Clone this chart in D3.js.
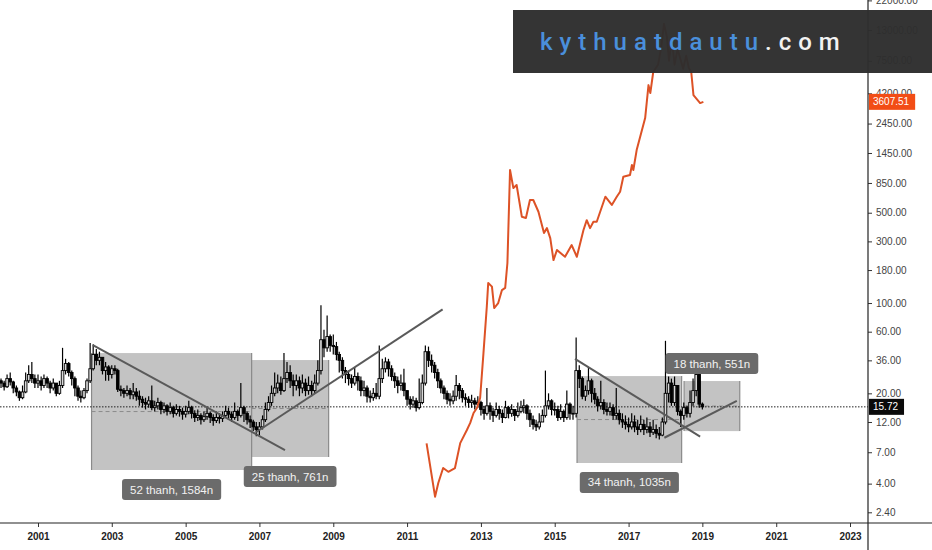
<!DOCTYPE html>
<html><head><meta charset="utf-8">
<script src="https://cdn.jsdelivr.net/npm/d3@7"></script>
<style>
html,body{margin:0;padding:0;background:#fff;}
svg{display:block;font-family:"Liberation Sans",Arial,sans-serif;}
</style></head><body>
<svg id="chart" width="932" height="550"></svg>
<script>
// ---------- DATA ----------
// Monthly candles, Jan 2000 .. Jan 2019 (open = previous close)
const startYear = 2000;
const firstOpen = 25;
const closes = [
 24,22.5,26,24.5,22,20.5,18.5,20.5,25,28,26,24,
 25,23,26,24,22,24,20,23,30,34,29,26,
 22,19,18.5,21,25,31,40,36,38,30,32,28,
 31,30,21.5,21,20,21,19.5,20.5,19,18,17,16.5,
 17.5,15.5,16,17,15,16,14.5,15.5,14,15,14.5,13.8,
 14.5,15.5,14,13,13.5,12.5,13.2,14,13,12.3,13,12.8,
 13.5,14.5,13.8,13,14.5,13.5,15.5,14,12.5,12,11,10.5,
 11,12.5,15,17,20,22,24,21,26,29,25,23,
 25,22,24,21,23,21,24,30,52,45,55,47,
 46,40,36,30,28,26,24,27,25,21,22,19,
 18.5,20,19,26,31,35,31,27,25,23,24,21,
 18,16.5,17.5,15.5,17,24,42,36,33,29,25,22,
 20,18,17.5,19,23,21,18.5,18,17,17.5,16.5,17,
 15,14,16,14.5,13.5,15,14,13,15.5,14,15,13.5,
 14.5,15.5,16,14,12.5,11.5,11,12,13.5,16,17.5,15,
 15,13,14.5,13,16.5,14,14,30,26,19,21,25,
 20,18,16,17,15,14.5,15.5,13.5,14,12.5,12,11.5,
 11,12,11,10.5,11.5,10.5,11,10,10.5,9.8,9.5,12,
 20,24,17,23,14.5,13.5,15.5,14,17,21,28,16.5,
 15.72];
const highs = [
 26,25,28,29,25,23,21,23,29,33,35,28,
 28,27,28,27,25,26,24,25,45,37,35,30,
 27,23,21,22,26,49,48,44,42,38,35,33,
 33,33,31,23,22,23,22,24,22,21,19,18.5,
 19,23,17.5,18.5,17.5,17,16.5,17,16,16.5,16,15.5,
 16,17.5,16,14.8,15,14,14.5,15.5,14.5,13.8,14.5,14,
 14.5,16,15.5,14.5,17,15,24,16,14.5,13.5,12.5,12,
 12,13.5,17,19,23,29,28,27,41,35,33,28,
 28,27,28,26,27,25,28,36,96,62,80,57,
 57,50,42,38,32,30,28,32,29,27,25,23,
 21,22,24,47,37,38,37,33,29,27,28,31,
 21,19,19,18.5,26,28,47,46,40,35,31,26,
 23,21,20,21,27.7,24,22,20,19,19.5,18.5,19,
 17.5,16,22,17,15.5,17,16,15,17.5,16,16.5,15,
 17,17.5,18,16.5,15,13.5,12.5,14,15,30,20,18,
 17,16,16.5,15,21,17,16,54,33,27,23,32,
 26,22,19,25,18,17,17,16.5,22,15,14,13.5,
 13,14,13.5,12.5,13.5,12.5,13,12,12.5,11.5,11,13,
 51,27,26,27,23,15,17,16,21,26,36,30,
 17];
const lows = [
 22,21,22,23,20,19,17.5,18,20,24,24,22,
 22,21,22,22,20,21,19,19.5,22,28,27,23,
 19,17.5,17,18,20,24,30,33,33,28,25,25,
 26,28,20.5,19,18.5,19,18,18,17.5,16,15.5,15,
 15.5,14.8,14.5,15,13.8,14,13.5,13.8,13,13.5,13.2,12.5,
 13,13.8,12.8,12,12.2,11.5,12,12.5,11.8,11.2,11.8,11.7,
 12,13,12.5,12,12.5,12.2,13,12,11.5,10.8,10.2,9.3,
 9.5,10.5,12,14.5,16,19,20,19.5,20.5,24,22,19,
 21,19,20,19,19.5,19,20,23,28,38,42,42,
 40,36,29,26,24,23,22,23,21,19,19,17,
 17,17.5,18,18,24,29,27,25,22,20,21,19,
 16,15,15.5,14.5,15,16.5,23,32,29,26,22,20,
 18,16.5,16,16.5,17.5,18,17,16,15.5,15.5,15,15.5,
 13.5,12.5,13.5,12.5,12,13,12.5,11.8,12.8,12.8,13.2,12.2,
 13,14,14,12.5,11,10.5,10.2,10.5,12,13,15,13.5,
 13.5,12.2,12.5,12,12.5,12.5,12.5,13,22,18,17.5,19.5,
 17,16.5,14.5,15,13.8,13.5,13.5,12.5,12.5,11.5,10.8,10.5,
 10,10.5,10,9.5,10,9.5,9.8,9.2,9.5,9,8.8,9.3,
 11.5,17,16,16,13.5,11,12.5,13,13,16,19,15.5,
 15];

// Orange overlay series (sampled)
const btcDates = ["2011-07-13","2011-10-05","2011-11-06","2011-12-24","2012-02-13","2012-04-19","2012-06-10","2012-08-15","2012-09-17","2012-10-20","2012-11-22","2012-12-24","2013-01-26","2013-02-28","2013-03-14","2013-04-20","2013-05-12","2013-06-21","2013-07-28","2013-08-29","2013-09-20","2013-10-16","2013-11-18","2013-12-20","2014-02-10","2014-03-22","2014-05-01","2014-06-03","2014-07-24","2014-09-17","2014-10-16","2014-11-18","2014-12-20","2015-01-23","2015-04-13","2015-06-18","2015-08-08","2015-10-12","2015-11-14","2015-12-17","2016-01-19","2016-02-21","2016-05-16","2016-07-19","2016-09-06","2016-10-09","2016-11-10","2017-01-15","2017-02-03","2017-02-17","2017-03-22","2017-06-14","2017-07-17","2017-08-04","2017-09-02","2017-10-20","2017-11-20","2017-12-17","2018-01-15","2018-02-05","2018-03-05","2018-04-01","2018-05-01","2018-06-25","2018-07-25","2018-08-20","2018-09-13","2018-10-05","2018-12-10","2019-01-11"];
const btcValues = [8.2,3.17,4.05,5.28,4.94,5.28,8.24,10.4,11.8,14.1,15.4,18.4,41,93.6,143,134,91.5,100,126,131,204,1070,776,819,465,455,627,627,509,348,380,318,215,257,228,281,228,366,438,380,426,426,665,574,665,727,950,980,1170,1070,1527,2700,4860,4220,6140,7000,9500,14500,11500,7500,11000,7000,9200,6500,8200,6600,6140,4070,3530,3607.51];

// Date-range boxes
const rangeStart = ["2002-06-15","2006-10-16","2015-08-10","2018-07-04"];
const rangeEnd   = ["2006-10-16","2008-11-16","2018-06-10","2020-01-06"];
const rangeHigh  = [41.0, 36.2, 27.2, 24.9];
const rangeLow   = [5.1, 6.43, 5.78, 10.2];
const rangeBars  = [52, 25, 34, 18];
const rangeDays  = [1584, 761, 1035, 551];
const rangeLabelAbove = [false, false, false, true];

// Trend lines
const trendStartDate = ["2002-06-28","2006-11-28","2015-07-21","2017-12-21"];
const trendStartVal  = [47.3, 10.0, 36.9, 9.06];
const trendEndDate   = ["2007-09-11","2011-12-19","2018-12-10","2019-12-08"];
const trendEndVal    = [7.28, 89.4, 9.23, 17.5];

// Axis ticks
const yTicks = [2.4,4,7,12,20,36,60,100,180,300,500,850,1450,2450,4200,7500,13000,22000];
const xTickYears = [2001,2003,2005,2007,2009,2011,2013,2015,2017,2019,2021,2023];
const lastPrice = 15.72;
const overlayLast = 3607.51;

// ---------- DRAW ----------
const svg = d3.select("#chart");
const W = 932, H = 550, axisX = 868, axisY = 523;
const parse = d3.timeParse("%Y-%m-%d");

const x = d3.scaleTime().domain([new Date(2001,0,1), new Date(2023,0,1)]).range([38, 850]);
const y = d3.scaleLog().domain([2.4, 22000]).range([512.3, 0.4]);

svg.append("defs").append("clipPath").attr("id","plot")
  .append("rect").attr("x",0).attr("y",0).attr("width",axisX).attr("height",axisY);
const plot = svg.append("g").attr("clip-path","url(#plot)");

const candles = closes.map((c,i)=>({
  date: new Date(startYear, i, 1),
  open: i===0 ? firstOpen : closes[i-1],
  close: c, high: highs[i], low: lows[i]
}));

// range boxes
rangeStart.forEach((s,i)=>{
  const x0 = x(parse(s)), x1 = x(parse(rangeEnd[i]));
  const y0 = y(rangeHigh[i]), y1 = y(rangeLow[i]);
  plot.append("rect").attr("x",x0).attr("y",y0).attr("width",x1-x0).attr("height",y1-y0)
    .attr("fill","#c3c3c3");
  [x0,x1].forEach(xx=>plot.append("line").attr("x1",xx).attr("x2",xx).attr("y1",y0).attr("y2",y1)
    .attr("stroke","#8a8a8a").attr("stroke-width",1.2));
  const ym = (y0+y1)/2;
  plot.append("line").attr("x1",x0).attr("x2",x1).attr("y1",ym).attr("y2",ym)
    .attr("stroke","#8c8c8c").attr("stroke-width",1).attr("stroke-dasharray","4,3");
});

// last price dotted line
plot.append("line").attr("x1",0).attr("x2",axisX).attr("y1",y(lastPrice)).attr("y2",y(lastPrice))
  .attr("stroke","#222").attr("stroke-width",1).attr("stroke-dasharray","1.5,1.5");

// candles
const cg = plot.append("g");
cg.selectAll("line.wick").data(candles).join("line")
  .attr("x1",d=>x(d.date)).attr("x2",d=>x(d.date))
  .attr("y1",d=>y(d.high)).attr("y2",d=>y(d.low))
  .attr("stroke","#000").attr("stroke-width",1.2);
cg.selectAll("rect.body").data(candles).join("rect")
  .attr("x",d=>x(d.date)-1.3).attr("width",2.6)
  .attr("y",d=>y(Math.max(d.open,d.close)))
  .attr("height",d=>Math.max(0.8, Math.abs(y(d.open)-y(d.close))))
  .attr("fill",d=>d.close>=d.open ? "#d8d8d8" : "#000")
  .attr("stroke","#000").attr("stroke-width",0.9);

// trend lines
trendStartDate.forEach((s,i)=>{
  plot.append("line")
    .attr("x1",x(parse(s))).attr("y1",y(trendStartVal[i]))
    .attr("x2",x(parse(trendEndDate[i]))).attr("y2",y(trendEndVal[i]))
    .attr("stroke","#5a5a5a").attr("stroke-width",2);
});

// orange overlay
const btc = btcDates.map((d,i)=>({date:parse(d), v:btcValues[i]}));
plot.append("path").datum(btc)
  .attr("d", d3.line().x(d=>x(d.date)).y(d=>y(d.v)))
  .attr("fill","none").attr("stroke","#dd5226").attr("stroke-width",2).attr("stroke-linejoin","round");

// range labels
rangeStart.forEach((s,i)=>{
  const x0 = x(parse(s)), x1 = x(parse(rangeEnd[i]));
  const cx = (x0+x1)/2;
  const g = svg.append("g");
  const rect = g.append("rect").attr("fill","#6b6b6b").attr("rx",3).attr("ry",3);
  const t = g.append("text").text(`${rangeBars[i]} thanh, ${rangeDays[i]}n`)
    .attr("font-size",11.5).attr("fill","#f2f2f2").attr("text-anchor","middle");
  const tw = t.node().getComputedTextLength();
  const h = 21;
  const top = rangeLabelAbove[i] ? y(rangeHigh[i]) - 7 - h : y(rangeLow[i]) + 9;
  rect.attr("x",cx - tw/2 - 8).attr("y",top).attr("width",tw+16).attr("height",h);
  t.attr("x",cx).attr("y",top + 14.5);
});

// axes
const yAxis = d3.axisRight(y).tickValues(yTicks).tickFormat(d3.format(".2f")).tickSize(4).tickPadding(4);
const ya = svg.append("g").attr("transform",`translate(${axisX},0)`).call(yAxis);
ya.select(".domain").remove();
ya.selectAll("text").attr("font-size",10).attr("fill","#444").attr("font-family","'Liberation Sans',Arial,sans-serif");
ya.selectAll(".tick line").attr("stroke","#333");

const xAxis = d3.axisBottom(x).tickValues(xTickYears.map(yr=>new Date(yr,0,1)))
  .tickFormat(d3.timeFormat("%Y")).tickSize(4).tickPadding(6);
const xa = svg.append("g").attr("transform",`translate(0,${axisY})`).call(xAxis);
xa.select(".domain").remove();
xa.selectAll("text").attr("font-size",10).attr("font-weight","bold").attr("fill","#222")
  .attr("font-family","'Liberation Sans',Arial,sans-serif");
xa.selectAll(".tick line").attr("stroke","#333");

svg.append("line").attr("x1",0).attr("x2",W).attr("y1",axisY).attr("y2",axisY).attr("stroke","#222").attr("stroke-width",1.2);
svg.append("line").attr("x1",axisX).attr("x2",axisX).attr("y1",0).attr("y2",H).attr("stroke","#222").attr("stroke-width",1.2);

// watermark
svg.append("rect").attr("x",513).attr("y",10).attr("width",W-513).attr("height",63)
  .attr("fill","#2d2d2d").attr("opacity",0.97);
const wm = svg.append("text").attr("x",540).attr("y",50)
  .attr("font-family","Roboto, 'Open Sans', sans-serif").attr("font-size",24).attr("font-weight",500)
  .attr("letter-spacing","7px");
wm.append("tspan").attr("fill","#4a8fdb").text("kythuatdautu");
wm.append("tspan").attr("fill","#f2f2f2").text(".com");

// price tags
function tag(val, fill){
  const g = svg.append("g");
  const r = g.append("rect").attr("fill",fill);
  const t = g.append("text").text(d3.format(".2f")(val)).attr("font-size",10).attr("fill","#fff")
    .attr("x",axisX+5).attr("y",y(val)+3.5);
  const tw = t.node().getComputedTextLength();
  r.attr("x",axisX+1).attr("y",y(val)-8).attr("width",tw+10).attr("height",16);
}
tag(overlayLast, "#f24d16");
tag(lastPrice, "#0a0a0a");
</script>
</body></html>
